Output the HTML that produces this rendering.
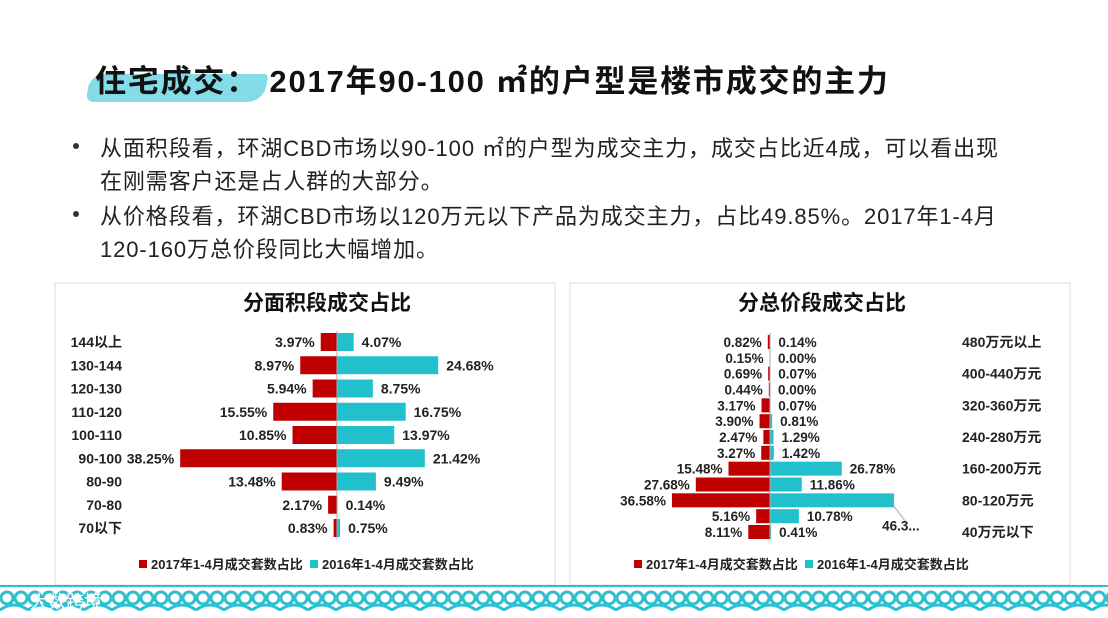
<!DOCTYPE html>
<html><head><meta charset="utf-8">
<style>
body{margin:0;width:1108px;height:618px;overflow:hidden;background:#fff;font-family:"Liberation Sans","Noto Sans CJK SC",sans-serif;position:relative}
.t{position:absolute;white-space:nowrap}
#title{left:95px;top:56px;font-size:31px;font-weight:bold;color:#111;letter-spacing:1.8px}
.b{left:100px;font-size:22px;color:#222;letter-spacing:0.9px}
.dot{position:absolute;left:73px;width:6px;height:6px;border-radius:3px;background:#333}
svg text{font-family:"Liberation Sans","Noto Sans CJK SC",sans-serif}
</style></head><body>
<div style="position:absolute;left:88px;top:74px;width:178px;height:28px;background:#6fd6e4;opacity:.85;border-radius:14px 4px 16px 8px;transform:skewX(-10deg)"></div>
<div id="title" class="t">住宅成交： 2017年90-100 ㎡的户型是楼市成交的主力</div>
<div class="dot" style="top:143px"></div>
<div class="t b" style="top:131px">从面积段看，环湖CBD市场以90-100 ㎡的户型为成交主力，成交占比近4成，可以看出现</div>
<div class="t b" style="top:164px">在刚需客户还是占人群的大部分。</div>
<div class="dot" style="top:211px"></div>
<div class="t b" style="top:199px">从价格段看，环湖CBD市场以120万元以下产品为成交主力，占比49.85%。2017年1-4月</div>
<div class="t b" style="top:232px">120-160万总价段同比大幅增加。</div>

<svg id="chart" width="1108" height="618" style="position:absolute;left:0;top:0">
<defs><pattern id="wave" width="28" height="34" patternUnits="userSpaceOnUse">
<circle cx="7" cy="20" r="6" fill="none" stroke="#2bbfcf" stroke-width="3"/>
<circle cx="21" cy="20" r="6" fill="none" stroke="#2bbfcf" stroke-width="3"/>
<path d="M0 32 Q14 22 28 32" fill="none" stroke="#2bbfcf" stroke-width="3"/>
</pattern></defs>
<rect x="55" y="283" width="500" height="302" fill="none" stroke="#ddd"/>
<rect x="570" y="283" width="500" height="302" fill="none" stroke="#ddd"/>
<rect x="0" y="586" width="1108" height="32" fill="url(#wave)"/>
<line x1="0" y1="586" x2="1108" y2="586" stroke="#2bbfcf" stroke-width="2"/>
<text x="30" y="608" font-size="18" fill="#fff">大数跨境</text>
<g id="g"></g>
</svg>
<script>
const areaCats=["144以上","130-144","120-130","110-120","100-110","90-100","80-90","70-80","70以下"];
const area2017=[3.97,8.97,5.94,15.55,10.85,38.25,13.48,2.17,0.83];
const area2016=[4.07,24.68,8.75,16.75,13.97,21.42,9.49,0.14,0.75];
const priceCats=["480万元以上","440-480万元","400-440万元","360-400万元","320-360万元","280-320万元","240-280万元","200-240万元","160-200万元","120-160万元","80-120万元","40-80万元","40万元以下"];
const price2017=[0.82,0.15,0.69,0.44,3.17,3.90,2.47,3.27,15.48,27.68,36.58,5.16,8.11];
const price2016=[0.14,0.00,0.07,0.00,0.07,0.81,1.29,1.42,26.78,11.86,46.3,10.78,0.41];
const legend=["2017年1-4月成交套数占比","2016年1-4月成交套数占比"];
const RED="#c00000",TEAL="#22c0cc",NS="http://www.w3.org/2000/svg";
const g=document.getElementById('g');
function el(tag,a,txt){const e=document.createElementNS(NS,tag);for(const k in a)e.setAttribute(k,a[k]);if(txt!==undefined)e.textContent=txt;g.appendChild(e);return e;}
function fmt(v){return v.toFixed(2)+"%";}
function chart(o){
  const t=el('text',{x:o.tx,y:310,'font-size':21,'font-weight':'bold','text-anchor':'middle',fill:'#111'},o.title);
  
  const n=o.cats.length,step=(o.y1-o.y0)/(n-1);
  const X=v=>v*o.sc;
  for(let i=0;i<n;i++){
    const yc=o.y0+i*step;
    const wl=X(o.a[i]),wr=X(o.b[i]);
    const r1=el('rect',{x:o.cx-wl,y:yc-o.bh/2,width:wl,height:o.bh,fill:RED});
    
    const r2=el('rect',{x:o.cx,y:yc-o.bh/2,width:wr,height:o.bh,fill:TEAL});
    
    const l1=el('text',{x:o.cx-wl-6,y:yc+5,'font-size':o.fs,'font-weight':'bold','text-anchor':'end',fill:'#222'},fmt(o.a[i]));
    
    let lx=o.cx+wr+8,ly=yc+5,txt=fmt(o.b[i]);
    if(o.key==='price'&&o.b[i]>40){lx=o.cx+wr-12;ly=yc+30;txt=o.b[i].toFixed(1)+"...";
      el('line',{x1:o.cx+wr,y1:yc+6,x2:o.cx+wr+12,y2:yc+22,stroke:'#aaa'});}
    const l2=el('text',{x:lx,y:ly,'font-size':o.fs,'font-weight':'bold',fill:'#222'},txt);
    
    if(o.key==='area'||i%2===0){
      const c=el('text',{x:o.catX,y:yc+5,'font-size':14,'font-weight':'bold','text-anchor':o.key==='area'?'end':'start',fill:'#222'},o.cats[i]);
      
    }
  }
  el('line',{x1:o.cx,y1:o.y0-o.bh/2-2,x2:o.cx,y2:o.y1+o.bh/2+2,stroke:'#aaa'});
  const lg=[[o.tx-188,RED,legend[0]],[o.tx-17,TEAL,legend[1]]];
  lg.forEach((d,j)=>{
    const s=el('rect',{x:d[0],y:560,width:8,height:8,fill:d[1]});
    
    const tt=el('text',{x:d[0]+12,y:569,'font-size':13,'font-weight':'bold',fill:'#222'},d[2]);
    
  });
}
chart({key:'area',title:'分面积段成交占比',tx:327,cats:areaCats,a:area2017,b:area2016,cx:337,sc:4.1,y0:342,y1:528,bh:18,catX:122,fs:14});
chart({key:'price',title:'分总价段成交占比',tx:822,cats:priceCats,a:price2017,b:price2016,cx:770,sc:2.68,y0:342,y1:532,bh:14,catX:962,fs:13.5});
</script>
</body></html>
